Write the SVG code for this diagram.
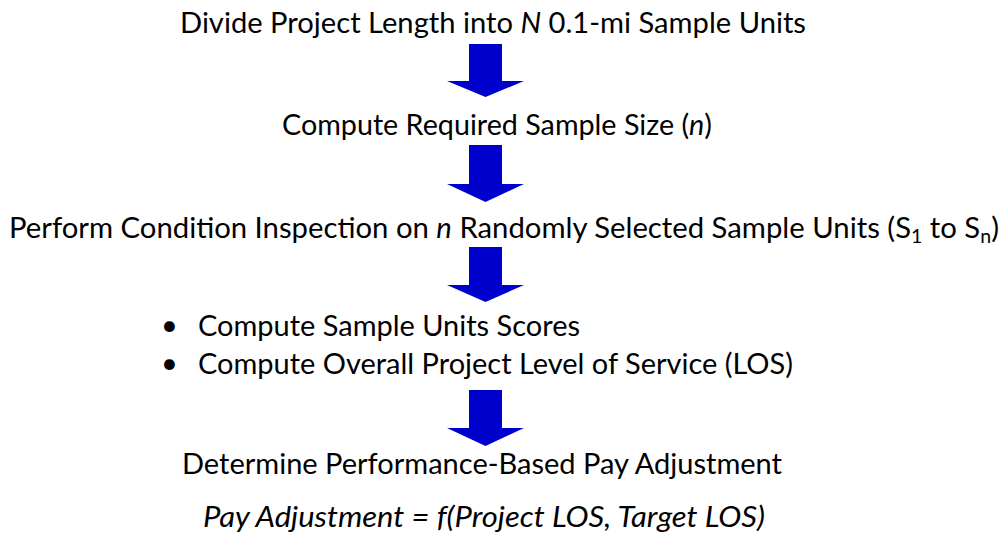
<svg xmlns="http://www.w3.org/2000/svg" width="1006" height="537" viewBox="0 0 1006 537">
<style>
.t{font-family:Lato,"Open Sans","Liberation Sans",sans-serif;font-size:28.5px;fill:#000}
.i{font-style:italic}
.sub{font-size:19px}
.b{font-size:29px}
.arr{fill:#0000CC}
</style>
<rect width="1006" height="537" fill="#fff"/>
<g id="step1"><text class="t" x="180" y="33" textLength="626" lengthAdjust="spacingAndGlyphs">Divide Project Length into <tspan class="i">N</tspan> 0.1-mi Sample Units</text></g>
<g id="step2"><text class="t" x="282" y="135" textLength="430" lengthAdjust="spacingAndGlyphs">Compute Required Sample Size (<tspan class="i">n</tspan>)</text></g>
<g id="step3"><text class="t" x="9" y="238" textLength="990" lengthAdjust="spacingAndGlyphs">Perform Condition Inspection on <tspan class="i">n</tspan> Randomly Selected Sample Units (S<tspan class="sub" dy="5">1</tspan><tspan dy="-5"> to S</tspan><tspan class="sub" dy="5">n</tspan><tspan dy="-5">)</tspan></text></g>
<g id="step4">
<text class="t b" x="161" y="335">•</text>
<text class="t" x="198" y="336" textLength="382" lengthAdjust="spacingAndGlyphs">Compute Sample Units Scores</text>
<text class="t b" x="161" y="373">•</text>
<text class="t" x="198" y="374" textLength="595" lengthAdjust="spacingAndGlyphs">Compute Overall Project Level of Service (LOS)</text>
</g>
<g id="step5"><text class="t" x="182" y="474" textLength="600" lengthAdjust="spacingAndGlyphs">Determine Performance-Based Pay Adjustment</text></g>
<g id="formula"><text class="t i" x="203" y="527" textLength="562" lengthAdjust="spacingAndGlyphs">Pay Adjustment = f(Project LOS, Target LOS)</text></g>
<g id="connectors">
<polygon class="arr" points="469,44 502,44 502,81 524,81 485.5,97 447,81 469,81"/>
<polygon class="arr" points="469,145 502,145 502,184 524,184 485.5,202 447,184 469,184"/>
<polygon class="arr" points="469,247 502,247 502,285 524,285 485.5,302 447,285 469,285"/>
<polygon class="arr" points="469,390 502,390 502,428 524,428 485.5,446 447,428 469,428"/>
</g>
</svg>
